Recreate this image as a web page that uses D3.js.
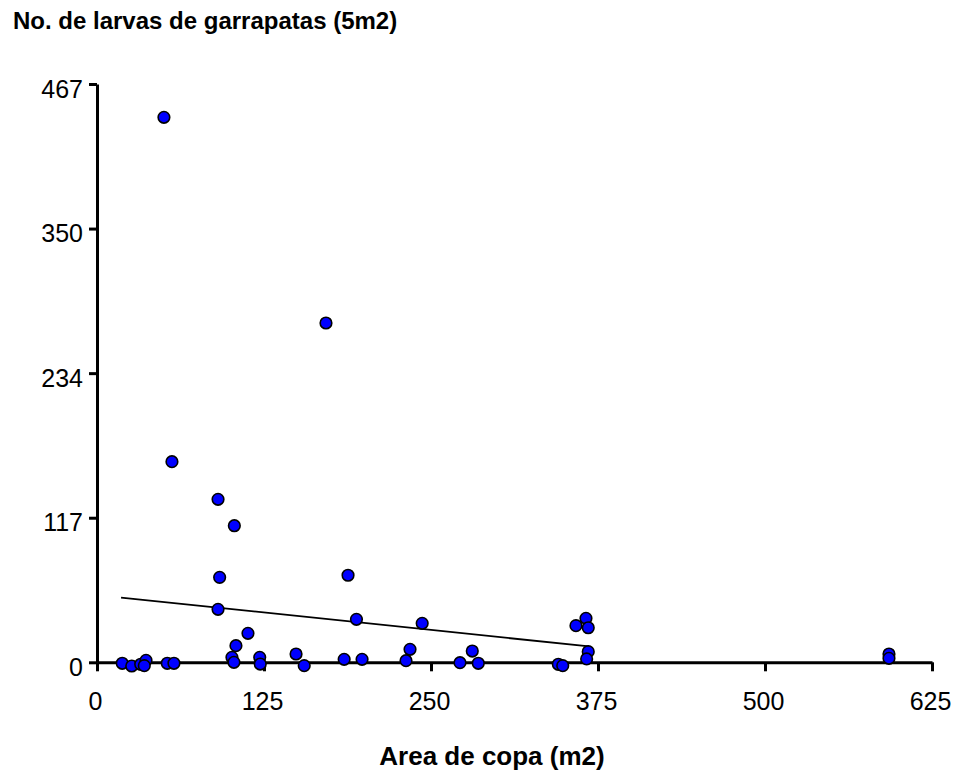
<!DOCTYPE html>
<html>
<head>
<meta charset="utf-8">
<script src="https://cdn.jsdelivr.net/npm/d3@7"></script>
<style>
  html, body { margin: 0; padding: 0; background: #fff; }
  svg { display: block; font-family: "Liberation Sans", Arial, sans-serif; }
</style>
</head>
<body>
<svg id="chart" width="956" height="771"></svg>
<script>
// Crown area (m2) of each tree and larvae counted under it (per 5 m2)
const areaCopa = [
  50.1, 56.1, 171.4, 90.6, 102.8, 91.8, 187.9, 90.6, 194.2, 243.4,
  113.0, 104.0, 101.0, 102.5, 121.8, 122.2, 149.0, 155.1, 185.0, 198.4,
  234.3, 231.3, 271.7, 280.9, 285.4, 358.5, 366.0, 367.7, 367.7, 366.5,
  345.3, 348.6, 592.8, 592.8, 18.9, 26.0, 32.7, 36.7, 35.4, 52.6, 57.6
];
const larvas = [
  440.1, 162.0, 274.0, 131.6, 110.3, 68.6, 70.3, 42.8, 34.7, 31.5,
  23.4, 13.4, 4.0, 0, 4.0, -1.4, 6.7, -2.7, 2.4, 2.4,
  10.5, 1.3, -0.3, 9.1, -0.8, 29.6, 35.5, 27.9, 8.6, 2.7,
  -1.6, -2.7, 6.7, 3.2, -0.8, -3.0, -1.6, 1.6, -2.7, -0.8, -0.8
];

// Fitted trend line endpoints
const trendArea = [18.0, 368.3];
const trendLarvas = [52.3, 12.8];

// Axis ticks
const xTicks = [0, 125, 250, 375, 500, 625];
const yTicks = [0, 116.75, 233.5, 350.25, 467];
const yTickLabels = ["0", "117", "234", "350", "467"];

const titleText = "No. de larvas de garrapatas (5m2)";
const xTitleText = "Area de copa (m2)";

const svg = d3.select("#chart");

const x = d3.scaleLinear().domain([0, 625]).range([97, 932]);
const y = d3.scaleLinear().domain([0, 467]).range([662.3, 84]);

// Y axis
const yAxis = d3.axisLeft(y)
  .tickValues(yTicks)
  .tickFormat((d, i) => yTickLabels[i])
  .tickSize(8)
  .tickSizeOuter(0)
  .tickPadding(6);

const gy = svg.append("g").attr("transform", `translate(${x(0)},0)`).call(yAxis);
gy.select(".domain").attr("stroke", "#000").attr("stroke-width", 3);
gy.selectAll(".tick line").attr("stroke", "#000").attr("stroke-width", 3);
gy.selectAll(".tick text")
  .attr("font-size", 25)
  .attr("fill", "#000")
  .attr("font-family", "'Liberation Sans', Arial, sans-serif")
  .attr("dy", "0.72em")
  .attr("y", -5);

// X axis
const xAxis = d3.axisBottom(x)
  .tickValues(xTicks)
  .tickFormat(d3.format("d"))
  .tickSize(9)
  .tickSizeOuter(0)
  .tickPadding(21);

const gx = svg.append("g").attr("transform", `translate(0,${y(0)})`).call(xAxis);
gx.select(".domain").attr("stroke", "#000").attr("stroke-width", 3);
gx.selectAll(".tick line").attr("stroke", "#000").attr("stroke-width", 3);
gx.selectAll(".tick text")
  .attr("font-size", 25)
  .attr("fill", "#000")
  .attr("font-family", "'Liberation Sans', Arial, sans-serif")
  .attr("dx", -2);

// Trend line
const trend = trendArea.map((a, i) => [a, trendLarvas[i]]);
svg.append("path")
  .datum(trend)
  .attr("fill", "none")
  .attr("stroke", "#000")
  .attr("stroke-width", 1.8)
  .attr("d", d3.line().x(d => x(d[0])).y(d => y(d[1])));

// Points
const points = areaCopa.map((a, i) => ({ a, n: larvas[i] }));
svg.append("g")
  .selectAll("circle")
  .data(points)
  .join("circle")
  .attr("cx", d => x(d.a))
  .attr("cy", d => y(d.n))
  .attr("r", 5.8)
  .attr("fill", "#0000ff")
  .attr("stroke", "#000")
  .attr("stroke-width", 1.6);

// Titles
svg.append("text")
  .attr("x", 13)
  .attr("y", 29)
  .attr("font-size", 24)
  .attr("font-weight", "bold")
  .attr("fill", "#000")
  .text(titleText);

svg.append("text")
  .attr("x", 492)
  .attr("y", 765)
  .attr("text-anchor", "middle")
  .attr("font-size", 26)
  .attr("font-weight", "bold")
  .attr("fill", "#000")
  .text(xTitleText);
</script>
</body>
</html>
